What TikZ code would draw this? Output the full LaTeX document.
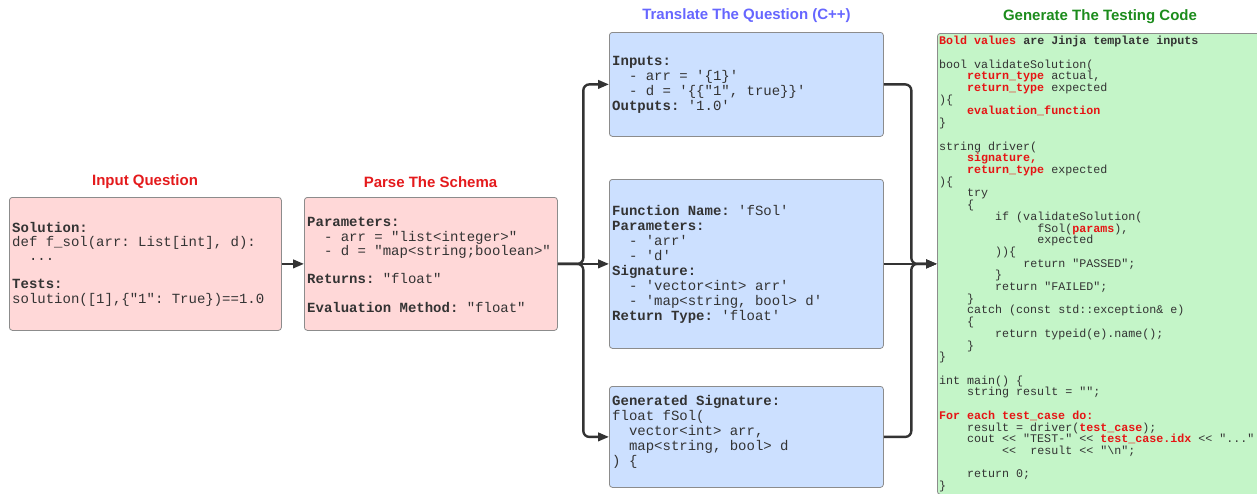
\documentclass[tikz,border=0pt]{standalone}
\usepackage{fontspec}
\setmainfont{Liberation Sans}
\setmonofont{Liberation Mono}
\usetikzlibrary{arrows.meta}
\definecolor{pinkfill}{RGB}{255,216,216}
\definecolor{bluefill}{RGB}{204,224,255}
\definecolor{greenfill}{RGB}{196,245,200}
\definecolor{boxborder}{RGB}{140,140,140}
\definecolor{codegray}{RGB}{51,51,51}
\definecolor{linegray}{RGB}{51,51,51}
\definecolor{titlered}{RGB}{228,26,28}
\definecolor{titleblue}{RGB}{102,102,255}
\definecolor{titlegreen}{RGB}{28,140,28}
\definecolor{hlred}{RGB}{230,20,20}
\newcommand\ind[1]{\hspace*{#1\fontcharwd\font 32 }}
\newcommand\blank{\mbox{}}
\newcommand\hl[1]{\textcolor{hlred}{\bfseries #1}}
\tikzset{
  box/.style={draw=boxborder, line width=0.8pt, rounded corners=3pt, inner sep=0pt, anchor=north west},
  title/.style={font=\fontsize{15}{18}\selectfont\bfseries, inner sep=0pt},
  codea/.style={font=\ttfamily\fontsize{14}{14.2}\selectfont\frenchspacing, text=codegray, align=left, inner sep=0pt, anchor=west},
  codeb/.style={font=\ttfamily\fontsize{14}{15}\selectfont\frenchspacing, text=codegray, align=left, inner sep=0pt, anchor=west},
  codec/.style={font=\ttfamily\fontsize{11.67}{11.71}\selectfont\frenchspacing, text=codegray, align=left, inner sep=0pt, anchor=north west},
  conn/.style={draw=linegray, line width=2.4pt, rounded corners=6pt},
  arr/.style={-{Triangle[length=11pt,width=8.5pt]}}
}
\begin{document}
\begin{tikzpicture}[x=1pt,y=-1pt]
\useasboundingbox (0,0) rectangle (1257,493);
% titles
\node[title, text=titlered] (h1) at (145,182) {Input Question};
\node[title, text=titlered] (h2) at (430.5,182) {Parse The Schema};
\node[title, text=titleblue] (h3) at (746.5,16) {Translate The Question (C++)};
\node[title, text=titlegreen] (h4) at (1100,17) {Generate The Testing Code};
% boxes
\node[box, fill=pinkfill, minimum width=272, minimum height=133] (b1) at (9,197) {};
\node[box, fill=pinkfill, minimum width=253, minimum height=133] (b2) at (304,197) {};
\node[box, fill=bluefill, minimum width=274, minimum height=104] (b3a) at (609,32) {};
\node[box, fill=bluefill, minimum width=274, minimum height=169] (b3b) at (609,179) {};
\node[box, fill=bluefill, minimum width=274, minimum height=101] (b3c) at (609,386) {};
\node[box, fill=greenfill, minimum width=326, minimum height=461] (b4) at (937,33) {};
% texts
\node[codea] (t1) at ([xshift=3pt]b1.west) {%
{\bfseries Solution:}\\
def f\_sol(arr: List[int], d):\\
\ind{2}...\\ \blank\\
{\bfseries Tests:}\\
solution([1],\{"1": True\})==1.0};
\node[codea] (t2) at ([xshift=3pt,yshift=-1pt]b2.west) {%
{\bfseries Parameters:}\\
\ind{2}- arr = "list<integer>"\\
\ind{2}- d = "map<string;boolean>"\\ \blank\\
{\bfseries Returns:} "float"\\ \blank\\
{\bfseries Evaluation Method:} "float"};
\node[codeb] (t3a) at ([xshift=3pt]b3a.west) {%
{\bfseries Inputs:}\\
\ind{2}- arr = '\{1\}'\\
\ind{2}- d = '\{\{"1", true\}\}'\\
{\bfseries Outputs:} '1.0'};
\node[codeb] (t3b) at ([xshift=3pt]b3b.west) {%
{\bfseries Function Name:} 'fSol'\\
{\bfseries Parameters:}\\
\ind{2}- 'arr'\\
\ind{2}- 'd'\\
{\bfseries Signature:}\\
\ind{2}- 'vector<int> arr'\\
\ind{2}- 'map<string, bool> d'\\
{\bfseries Return Type:} 'float'};
\node[codeb] (t3c) at ([xshift=3pt,yshift=5pt]b3c.west) {%
{\bfseries Generated Signature:}\\
float fSol(\\
\ind{2}vector<int> arr,\\
\ind{2}map<string, bool> d\\
) \{};
\node[codec] (t4) at (939,36) {%
\hl{Bold values} {\bfseries are Jinja template inputs}\\ \blank\\
bool validateSolution(\\
\ind{4}\hl{return\_type} actual,\\
\ind{4}\hl{return\_type} expected\\
)\{\\
\ind{4}\hl{evaluation\_function}\\
\}\\ \blank\\
string driver(\\
\ind{4}\hl{signature,}\\
\ind{4}\hl{return\_type} expected\\
)\{\\
\ind{4}try\\
\ind{4}\{\\
\ind{8}if (validateSolution(\\
\ind{14}fSol(\hl{params}),\\
\ind{14}expected\\
\ind{8}))\{\\
\ind{12}return "PASSED";\\
\ind{8}\}\\
\ind{8}return "FAILED";\\
\ind{4}\}\\
\ind{4}catch (const std::exception\& e)\\
\ind{4}\{\\
\ind{8}return typeid(e).name();\\
\ind{4}\}\\
\}\\ \blank\\
int main() \{\\
\ind{4}string result = "";\\ \blank\\
\hl{For each test\_case do:}\\
\ind{4}result = driver(\hl{test\_case});\\
\ind{4}cout << "TEST-" << \hl{test\_case.idx} << "..."\\
\ind{9}<<\ind{2}result << "\textbackslash n";\\ \blank\\
\ind{4}return 0;\\
\}};
% connectors
\draw[conn, arr] (b1.east) -- (b2.west);
\draw[conn, arr] (b2.east) -- ++(25.5,0) |- (b3a.west);
\draw[conn, arr] (b2.east) -- (b3b.west);
\draw[conn, arr] (b2.east) -- ++(25.5,0) |- (b3c.west);
\draw[conn, arr] (b3a.east) -- ++(27.5,0) |- (b4.west);
\draw[conn, arr] (b3b.east) -- (b4.west);
\draw[conn, arr] (b3c.east) -- ++(27.5,0) |- (b4.west);
\end{tikzpicture}
\end{document}
